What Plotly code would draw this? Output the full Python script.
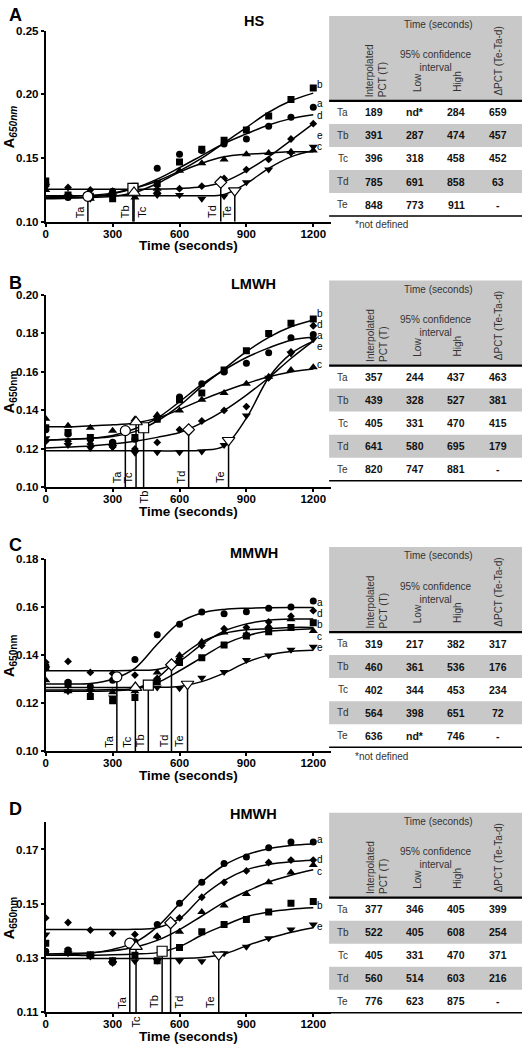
import plotly.graph_objects as go

W, H = 522, 1048
FONT = "Liberation Sans, Arial, sans-serif"

TIME = [0, 100, 200, 300, 400, 500, 600, 700, 800, 900, 1000, 1100, 1200]
SERIES = ["a", "b", "c", "d", "e"]
T_NAMES = ["Ta", "Tb", "Tc", "Td", "Te"]

# ---------------- Panel A : HS ----------------
HS_PTS_A = [0.130, 0.119, 0.120, 0.124, 0.125, 0.142, 0.153, 0.156, 0.161, 0.165, 0.175, 0.182, 0.190]
HS_PTS_B = [0.132, 0.121, 0.120, 0.118, 0.128, 0.130, 0.147, 0.157, 0.164, 0.172, 0.183, 0.196, 0.205]
HS_PTS_C = [0.125, 0.121, 0.118, 0.124, 0.119, 0.126, 0.140, 0.146, 0.149, 0.153, 0.154, 0.155, 0.156]
HS_PTS_D = [0.128, 0.127, 0.125, 0.121, 0.121, 0.123, 0.126, 0.128, 0.134, 0.141, 0.149, 0.165, 0.177]
HS_PTS_E = [0.128, 0.120, 0.118, 0.120, 0.122, 0.121, 0.121, 0.118, 0.120, 0.131, 0.141, 0.154, 0.159]
HS_FIT_A = [0.118, 0.1185, 0.1195, 0.122, 0.1265, 0.1335, 0.1425, 0.152, 0.1615, 0.169, 0.176, 0.181, 0.184]
HS_FIT_B = [0.1195, 0.120, 0.1208, 0.1225, 0.1265, 0.132, 0.140, 0.150, 0.162, 0.174, 0.186, 0.195, 0.201]
HS_FIT_C = [0.119, 0.119, 0.119, 0.120, 0.123, 0.130, 0.139, 0.146, 0.151, 0.153, 0.154, 0.155, 0.155]
HS_FIT_D = [0.1255, 0.1255, 0.1255, 0.1255, 0.1255, 0.1257, 0.1262, 0.1275, 0.1315, 0.140, 0.151, 0.164, 0.177]
HS_FIT_E = [0.1205, 0.1205, 0.1205, 0.1205, 0.1205, 0.1205, 0.1205, 0.1205, 0.1215, 0.130, 0.142, 0.151, 0.156]
HS_TY = [0.120, 0.1262, 0.123, 0.131, 0.1245]
HS_PCT = [189, 391, 396, 785, 848]
HS_LOW = ["nd*", 287, 318, 691, 773]
HS_HIGH = [284, 474, 458, 858, 911]
HS_DPCT = [659, 457, 452, 63, "-"]

# ---------------- Panel B : LMWH ----------------
LMWH_PTS_A = [0.130, 0.1277, 0.125, 0.1235, 0.125, 0.1357, 0.147, 0.1538, 0.160, 0.1645, 0.170, 0.1778, 0.1795]
LMWH_PTS_B = [0.131, 0.1285, 0.126, 0.1225, 0.126, 0.1354, 0.1455, 0.149, 0.161, 0.171, 0.180, 0.1853, 0.1875]
LMWH_PTS_C = [0.1357, 0.132, 0.131, 0.1294, 0.1354, 0.1376, 0.140, 0.1456, 0.149, 0.1538, 0.1575, 0.161, 0.1625]
LMWH_PTS_D = [0.124, 0.124, 0.1226, 0.121, 0.120, 0.1234, 0.130, 0.1345, 0.140, 0.142, 0.157, 0.1704, 0.184]
LMWH_PTS_E = [0.1255, 0.122, 0.1205, 0.121, 0.118, 0.1183, 0.1183, 0.1186, 0.122, 0.1374, 0.157, 0.1696, 0.177]
LMWH_FIT_A = [0.1245, 0.125, 0.1255, 0.127, 0.1305, 0.136, 0.1445, 0.1535, 0.161, 0.1675, 0.1725, 0.1765, 0.178]
LMWH_FIT_B = [0.1245, 0.125, 0.1255, 0.1265, 0.129, 0.1345, 0.1425, 0.1525, 0.1615, 0.1705, 0.178, 0.1835, 0.187]
LMWH_FIT_C = [0.1315, 0.1315, 0.132, 0.1325, 0.1335, 0.136, 0.1405, 0.1455, 0.150, 0.154, 0.1575, 0.160, 0.1615]
LMWH_FIT_D = [0.1205, 0.121, 0.1215, 0.1225, 0.124, 0.126, 0.1285, 0.1335, 0.140, 0.148, 0.157, 0.167, 0.176]
LMWH_FIT_E = [0.119, 0.119, 0.119, 0.119, 0.119, 0.119, 0.119, 0.1193, 0.1215, 0.136, 0.157, 0.1695, 0.176]
LMWH_TY = [0.1295, 0.131, 0.134, 0.130, 0.1245]
LMWH_PCT = [357, 439, 405, 641, 820]
LMWH_LOW = [244, 328, 331, 580, 747]
LMWH_HIGH = [437, 527, 470, 695, 881]
LMWH_DPCT = [463, 381, 415, 179, "-"]

# ---------------- Panel C : MMWH ----------------
MMWH_PTS_A = [0.135, 0.1287, 0.127, 0.1296, 0.1382, 0.1485, 0.1528, 0.1579, 0.1572, 0.158, 0.1595, 0.160, 0.1625]
MMWH_PTS_B = [0.135, 0.128, 0.1228, 0.121, 0.1224, 0.129, 0.1369, 0.1389, 0.1442, 0.148, 0.1497, 0.1515, 0.1535]
MMWH_PTS_C = [0.1296, 0.125, 0.1255, 0.1246, 0.125, 0.1328, 0.140, 0.1456, 0.1494, 0.1487, 0.152, 0.1549, 0.150]
MMWH_PTS_D = [0.137, 0.1374, 0.1328, 0.1324, 0.1317, 0.1303, 0.1385, 0.144, 0.151, 0.1515, 0.1538, 0.1562, 0.1585]
MMWH_PTS_E = [0.1345, 0.125, 0.125, 0.1224, 0.126, 0.1265, 0.1262, 0.1306, 0.133, 0.138, 0.1399, 0.1422, 0.1435]
MMWH_FIT_A = [0.128, 0.128, 0.1282, 0.130, 0.1345, 0.1445, 0.1535, 0.1575, 0.159, 0.1595, 0.1597, 0.1598, 0.1598]
MMWH_FIT_B = [0.1255, 0.1255, 0.1255, 0.1257, 0.126, 0.1285, 0.1335, 0.139, 0.1445, 0.148, 0.150, 0.1505, 0.151]
MMWH_FIT_C = [0.125, 0.125, 0.125, 0.1252, 0.126, 0.1305, 0.139, 0.1455, 0.149, 0.1505, 0.151, 0.1515, 0.1515]
MMWH_FIT_D = [0.1335, 0.1335, 0.1335, 0.1335, 0.1337, 0.134, 0.1375, 0.1445, 0.150, 0.153, 0.1545, 0.155, 0.155]
MMWH_FIT_E = [0.1265, 0.1265, 0.1265, 0.1265, 0.1265, 0.1266, 0.127, 0.129, 0.1325, 0.137, 0.140, 0.1415, 0.142]
MMWH_TY = [0.131, 0.1275, 0.1265, 0.136, 0.128]
MMWH_PCT = [319, 460, 402, 564, 636]
MMWH_LOW = [217, 361, 344, 398, "nd*"]
MMWH_HIGH = [382, 536, 453, 651, 746]
MMWH_DPCT = [317, 176, 234, 72, "-"]

# ---------------- Panel D : HMWH ----------------
HMWH_PTS_A = [0.1325, 0.133, 0.131, 0.1285, 0.136, 0.1424, 0.1502, 0.1579, 0.1648, 0.1672, 0.1706, 0.1728, 0.1728]
HMWH_PTS_B = [0.1355, 0.1324, 0.1312, 0.129, 0.131, 0.129, 0.1339, 0.1397, 0.1424, 0.1442, 0.147, 0.1502, 0.1508]
HMWH_PTS_C = [0.132, 0.132, 0.131, 0.129, 0.1345, 0.138, 0.1397, 0.147, 0.1494, 0.1536, 0.1579, 0.1615, 0.1643]
HMWH_PTS_D = [0.1448, 0.1431, 0.1403, 0.1391, 0.1387, 0.1379, 0.1448, 0.1524, 0.1579, 0.1621, 0.1652, 0.1661, 0.1661]
HMWH_PTS_E = [0.1387, 0.1318, 0.1306, 0.1282, 0.1288, 0.129, 0.129, 0.1288, 0.1318, 0.1342, 0.1373, 0.1405, 0.1424]
HMWH_FIT_A = [0.131, 0.1312, 0.1318, 0.1332, 0.1358, 0.1415, 0.150, 0.158, 0.1642, 0.168, 0.1703, 0.1715, 0.172]
HMWH_FIT_B = [0.131, 0.131, 0.131, 0.1312, 0.1315, 0.132, 0.1342, 0.1385, 0.142, 0.1452, 0.147, 0.148, 0.1485]
HMWH_FIT_C = [0.1315, 0.1317, 0.132, 0.1327, 0.134, 0.1365, 0.1405, 0.1455, 0.1505, 0.1545, 0.158, 0.1605, 0.1625]
HMWH_FIT_D = [0.1405, 0.1405, 0.1405, 0.1405, 0.1406, 0.1412, 0.1445, 0.1525, 0.1585, 0.1625, 0.1645, 0.1655, 0.166]
HMWH_FIT_E = [0.1298, 0.1298, 0.1298, 0.1298, 0.1298, 0.1298, 0.1299, 0.1302, 0.1315, 0.1345, 0.1372, 0.1395, 0.1412]
HMWH_TY = [0.1355, 0.1325, 0.1342, 0.143, 0.1312]
HMWH_PCT = [377, 522, 405, 560, 776]
HMWH_LOW = [346, 405, 331, 514, 623]
HMWH_HIGH = [405, 608, 470, 603, 875]
HMWH_DPCT = [399, 254, 371, 216, "-"]

# ---------------- layout / style parameters ----------------
SYMBOLS = {"a": "circle", "b": "square", "c": "triangle-up", "d": "diamond", "e": "triangle-down"}
SIZES = {"a": 7, "b": 7, "c": 8, "d": 6, "e": 8}

PANELS = [
    dict(letter="A", title="HS", pts=[HS_PTS_A, HS_PTS_B, HS_PTS_C, HS_PTS_D, HS_PTS_E],
         fit=[HS_FIT_A, HS_FIT_B, HS_FIT_C, HS_FIT_D, HS_FIT_E], ty=HS_TY,
         pct=HS_PCT, low=HS_LOW, high=HS_HIGH, dpct=HS_DPCT,
         ybot=218.3, ytop=25, yrange=[0.10, 0.25], yticks=[0.10, 0.15, 0.20, 0.25],
         lab_y=[0.1926, 0.2074, 0.1592, 0.1837, 0.1678], tside=["l", "l", "r", "l", "l"],
         italic=True, table_top=10, note=True, letter_y=9, title_y=15),
    dict(letter="B", title="LMWH", pts=[LMWH_PTS_A, LMWH_PTS_B, LMWH_PTS_C, LMWH_PTS_D, LMWH_PTS_E],
         fit=[LMWH_FIT_A, LMWH_FIT_B, LMWH_FIT_C, LMWH_FIT_D, LMWH_FIT_E], ty=LMWH_TY,
         pct=LMWH_PCT, low=LMWH_LOW, high=LMWH_HIGH, dpct=LMWH_DPCT,
         ybot=487, ytop=292.3, yrange=[0.10, 0.20], yticks=[0.10, 0.12, 0.14, 0.16, 0.18, 0.20],
         lab_y=[0.1790, 0.1903, 0.1637, 0.1846, 0.1733], tside=["l", "below", "l", "l", "l"],
         italic=False, table_top=277.7, note=False, letter_y=280, title_y=281),
    dict(letter="C", title="MMWH", pts=[MMWH_PTS_A, MMWH_PTS_B, MMWH_PTS_C, MMWH_PTS_D, MMWH_PTS_E],
         fit=[MMWH_FIT_A, MMWH_FIT_B, MMWH_FIT_C, MMWH_FIT_D, MMWH_FIT_E], ty=MMWH_TY,
         pct=MMWH_PCT, low=MMWH_LOW, high=MMWH_HIGH, dpct=MMWH_DPCT,
         ybot=754, ytop=559.3, yrange=[0.10, 0.18], yticks=[0.10, 0.12, 0.14, 0.16, 0.18],
         lab_y=[0.1620, 0.1526, 0.1478, 0.1573, 0.1431], tside=["l", "l", "l", "l", "l"],
         italic=False, table_top=547.3, note=True, letter_y=545, title_y=553),
    dict(letter="D", title="HMWH", pts=[HMWH_PTS_A, HMWH_PTS_B, HMWH_PTS_C, HMWH_PTS_D, HMWH_PTS_E],
         fit=[HMWH_FIT_A, HMWH_FIT_B, HMWH_FIT_C, HMWH_FIT_D, HMWH_FIT_E], ty=HMWH_TY,
         pct=HMWH_PCT, low=HMWH_LOW, high=HMWH_HIGH, dpct=HMWH_DPCT,
         ybot=1018, ytop=825.8, yrange=[0.11, 0.18], yticks=[0.11, 0.13, 0.15, 0.17],
         lab_y=[0.1736, 0.1494, 0.1620, 0.1664, 0.1415], tside=["l", "l", "below", "r", "l"],
         italic=False, table_top=816, note=False, letter_y=812.5, title_y=817),
]

X_LEFT, X_RIGHT = 43, 330
X_RANGE = [0, 1280]
TAB_L, TAB_R = 328, 522
HEAD_H, ROW_H = 86, 23.3
COLS = [341.7, 373, 414, 455.7, 498]
GRAY = "#c8c8c8"


def xp(x):
    return x / W


def yp(y):
    return 1 - y / H


fig = go.Figure()
annotations = []
shapes = []
layout_axes = {}

for i, P in enumerate(PANELS):
    n = "" if i == 0 else str(i + 1)
    xa, ya = "x" + n, "y" + n
    ymin = P["yrange"][0]

    layout_axes["xaxis" + n] = dict(
        domain=[xp(X_LEFT), xp(X_RIGHT)], range=X_RANGE, anchor=ya,
        showline=True, linewidth=2, linecolor="black", showgrid=False, zeroline=False,
        ticks="outside", ticklen=3, tickwidth=1.5, tickcolor="black",
        ticklabelstandoff=-3,
        tickvals=[0, 300, 600, 900, 1200],
        tickfont=dict(family=FONT, size=11.5, color="black", weight="bold"))
    layout_axes["yaxis" + n] = dict(
        domain=[yp(P["ybot"]), yp(P["ytop"])], range=P["yrange"], anchor=xa,
        showline=True, linewidth=2, linecolor="black", showgrid=False, zeroline=False,
        ticks="outside", ticklen=3, tickwidth=1.5, tickcolor="black",
        tickvals=P["yticks"], tickformat=".2f",
        tickfont=dict(family=FONT, size=11.5, color="black", weight="bold"))

    # fitted curves
    for s, fit in zip(SERIES, P["fit"]):
        fig.add_trace(go.Scatter(x=TIME, y=fit, mode="lines", xaxis=xa, yaxis=ya,
                                 line=dict(color="black", width=1.5, shape="spline"),
                                 showlegend=False, hoverinfo="skip"))
    # vertical T lines
    for k, s in enumerate(SERIES):
        fig.add_trace(go.Scatter(x=[P["pct"][k], P["pct"][k]], y=[ymin, P["ty"][k]],
                                 mode="lines", xaxis=xa, yaxis=ya,
                                 line=dict(color="black", width=1.5),
                                 showlegend=False, hoverinfo="skip"))
    # data points
    for s, pts in zip(SERIES, P["pts"]):
        fig.add_trace(go.Scatter(x=TIME, y=pts, mode="markers", xaxis=xa, yaxis=ya,
                                 marker=dict(symbol=SYMBOLS[s], size=SIZES[s], color="black",
                                             line=dict(width=0)),
                                 showlegend=False))
    # open markers at interpolated PCT
    for k, s in enumerate(SERIES):
        fig.add_trace(go.Scatter(x=[P["pct"][k]], y=[P["ty"][k]], mode="markers",
                                 xaxis=xa, yaxis=ya,
                                 marker=dict(symbol=SYMBOLS[s], size=SIZES[s] + 3, color="white",
                                             line=dict(color="black", width=1.2)),
                                 showlegend=False))

    # curve letters
    for s, ly in zip(SERIES, P["lab_y"]):
        annotations.append(dict(x=1228, y=ly, xref=xa, yref=ya, text=s, showarrow=False,
                                font=dict(family=FONT, size=10, color="#000000"),
                                xanchor="center", yanchor="middle", borderpad=0))
    # T labels
    for k, tn in enumerate(T_NAMES):
        side = P["tside"][k]
        a = dict(x=P["pct"][k], y=ymin, xref=xa, yref=ya, text=tn, showarrow=False,
                 textangle=-90, font=dict(family=FONT, size=11, color="#000000"))
        if side == "l":
            a.update(xanchor="right", yanchor="bottom", xshift=0, yshift=2)
        elif side == "r":
            a.update(xanchor="left", yanchor="bottom", xshift=0, yshift=2)
        else:
            a.update(xanchor="center", yanchor="top", yshift=-1)
        annotations.append(a)

    # panel letter / title / axis titles
    annotations.append(dict(x=xp(13), y=yp(P["letter_y"]), xref="paper", yref="paper",
                            text=P["letter"], showarrow=False, xanchor="center", yanchor="middle",
                            font=dict(family=FONT, size=18, color="black", weight="bold")))
    annotations.append(dict(x=xp(252), y=yp(P["title_y"]), xref="paper", yref="paper",
                            text=P["title"], showarrow=False, xanchor="center", yanchor="middle",
                            font=dict(family=FONT, size=14.5, color="black", weight="bold")))
    annotations.append(dict(x=xp(187), y=yp(P["ybot"] + 24), xref="paper", yref="paper",
                            text="Time (seconds)", showarrow=False, xanchor="center",
                            yanchor="middle", borderpad=0,
                            font=dict(family=FONT, size=13.5, color="black", weight="bold")))
    sub = "<i>650nm</i>" if P["italic"] else "650nm"
    annotations.append(dict(x=xp(7), y=yp((P["ybot"] + P["ytop"]) / 2), xref="paper",
                            yref="paper", text="A<sub>" + sub + "</sub>", showarrow=False,
                            textangle=-90, xanchor="center", yanchor="middle",
                            font=dict(family=FONT, size=14.5, color="black", weight="bold")))

    # ---------------- table ----------------
    t = P["table_top"]
    hb = t + HEAD_H
    shapes.append(dict(type="rect", xref="paper", yref="paper", x0=xp(TAB_L), x1=xp(TAB_R),
                       y0=yp(hb), y1=yp(t), fillcolor=GRAY, line=dict(width=0), layer="below"))
    for r in (1, 3):
        shapes.append(dict(type="rect", xref="paper", yref="paper", x0=xp(TAB_L), x1=xp(TAB_R),
                           y0=yp(hb + (r + 1) * ROW_H), y1=yp(hb + r * ROW_H),
                           fillcolor=GRAY, line=dict(width=0), layer="below"))
    shapes.append(dict(type="line", xref="paper", yref="paper", x0=xp(TAB_L), x1=xp(TAB_R),
                       y0=yp(hb), y1=yp(hb), line=dict(color="black", width=2.2)))
    shapes.append(dict(type="line", xref="paper", yref="paper", x0=xp(TAB_L), x1=xp(TAB_R),
                       y0=yp(hb + 5 * ROW_H), y1=yp(hb + 5 * ROW_H),
                       line=dict(color="black", width=1.5)))

    hf = dict(family=FONT, size=10, color="#333333")
    annotations.append(dict(x=xp(438), y=yp(t + 9), xref="paper", yref="paper",
                            text="Time (seconds)", showarrow=False, font=hf,
                            xanchor="center", yanchor="middle"))
    annotations.append(dict(x=xp(376), y=yp(t + 84), xref="paper", yref="paper",
                            text="Interpolated<br>PCT (T)", showarrow=False, font=hf,
                            textangle=-90, align="left", xanchor="center", yanchor="bottom"))
    annotations.append(dict(x=xp(435), y=yp(t + 46), xref="paper", yref="paper",
                            text="95% confidence<br>interval", showarrow=False, font=hf,
                            align="center", xanchor="center", yanchor="middle"))
    annotations.append(dict(x=xp(417), y=yp(t + 79), xref="paper", yref="paper",
                            text="Low", showarrow=False, font=hf,
                            textangle=-90, xanchor="center", yanchor="bottom"))
    annotations.append(dict(x=xp(457), y=yp(t + 79), xref="paper", yref="paper",
                            text="High", showarrow=False, font=hf,
                            textangle=-90, xanchor="center", yanchor="bottom"))
    annotations.append(dict(x=xp(498), y=yp(t + 83), xref="paper", yref="paper",
                            text="\u0394PCT (Te-Ta-d)", showarrow=False, font=hf,
                            textangle=-90, xanchor="center", yanchor="bottom"))

    for r in range(5):
        yc = hb + (r + 0.5) * ROW_H
        annotations.append(dict(x=xp(COLS[0]), y=yp(yc), xref="paper", yref="paper",
                                text=T_NAMES[r], showarrow=False, font=hf,
                                xanchor="center", yanchor="middle"))
        vals = [P["pct"][r], P["low"][r], P["high"][r], P["dpct"][r]]
        for c, v in enumerate(vals):
            annotations.append(dict(x=xp(COLS[c + 1]), y=yp(yc), xref="paper", yref="paper",
                                    text=str(v), showarrow=False,
                                    font=dict(family=FONT, size=10.5, color="#111111",
                                              weight="bold"),
                                    xanchor="center", yanchor="middle"))
    if P["note"]:
        annotations.append(dict(x=xp(352), y=yp(hb + 5 * ROW_H + 9), xref="paper",
                                yref="paper", text="*not defined", showarrow=False,
                                font=dict(family=FONT, size=10, color="#333333"),
                                xanchor="left", yanchor="middle"))

fig.update_layout(
    width=W, height=H, autosize=False,
    margin=dict(l=0, r=0, t=0, b=0),
    paper_bgcolor="white", plot_bgcolor="white",
    showlegend=False,
    annotations=annotations, shapes=shapes,
    **layout_axes,
)

fig.write_html("out.html", config={"displayModeBar": False},
               post_script="document.body.style.margin='0';")
